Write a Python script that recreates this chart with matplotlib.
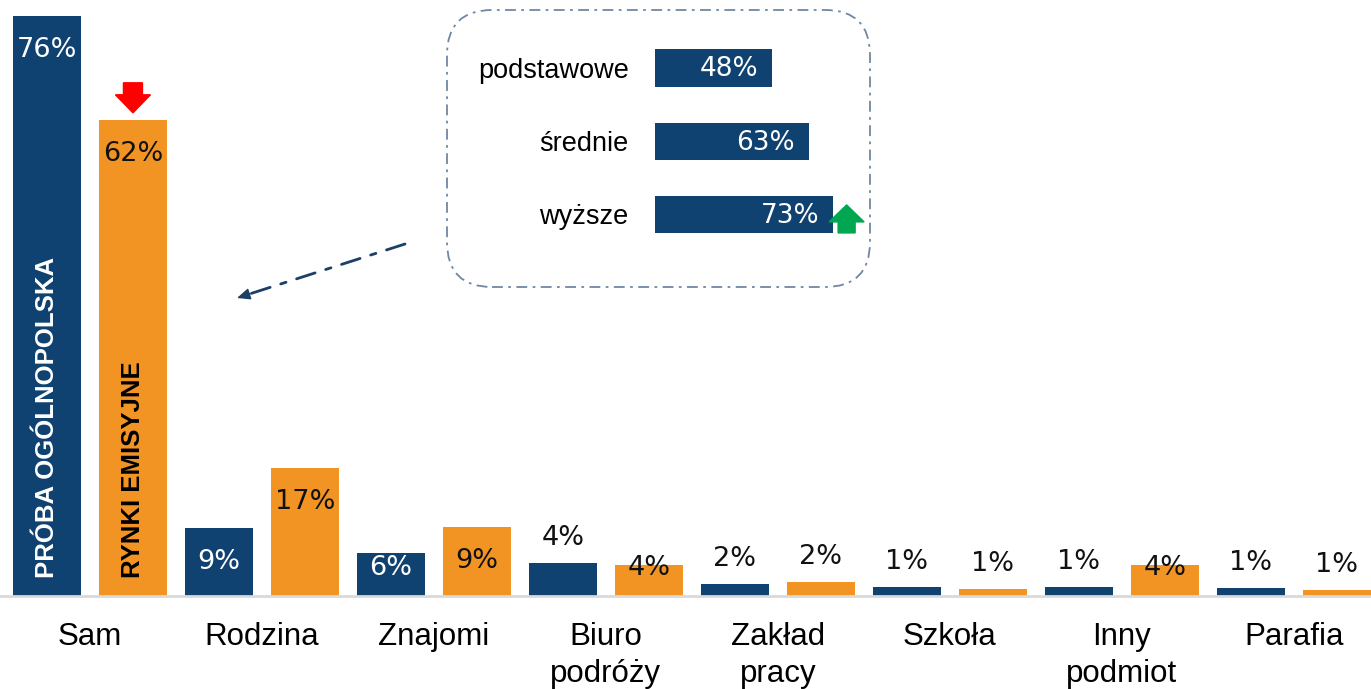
import numpy as np
import matplotlib
matplotlib.use("Agg")
import matplotlib.pyplot as plt
import matplotlib.transforms as mtransforms
from matplotlib.patches import Polygon, FancyBboxPatch

categories = ["Sam", "Rodzina", "Znajomi", "Biuro\npodróży", "Zakład\npracy",
              "Szkoła", "Inny\npodmiot", "Parafia"]
proba_ogolnopolska = [76, 8.9, 5.6, 4.3, 1.6, 1.2, 1.2, 1.0]
rynki_emisyjne = [62.4, 16.8, 9.1, 4.0, 1.8, 0.9, 4.0, 0.8]

wyksztalcenie = ["podstawowe", "średnie", "wyższe"]
wyksztalcenie_vals = [48, 63, 73]

# where each value label goes ('in' = inside the bar top, 'out' = above it)
proba_label_pos = ["in", "in", "in", "out", "out", "out", "out", "out"]
rynki_label_pos = ["in", "in", "in", "in", "out", "out", "in", "out"]

NAVY = "#0F4270"
ORANGE = "#F29423"
LABEL_FONT = "Liberation Sans"
PCT_FONT = "DejaVu Sans"

W, H = 1371, 689
fig = plt.figure(figsize=(W / 100, H / 100), dpi=100)
ax = fig.add_axes([0, 1 - 596 / H, 1, 596 / H])

x = np.arange(len(categories))
ax.bar(x - 0.25, proba_ogolnopolska, width=0.395, color=NAVY)
ax.bar(x + 0.25, rynki_emisyjne, width=0.395, color=ORANGE)
ax.set_xlim(-0.523, 7.448)
ax.set_ylim(0, 78.1)

for s in ["top", "left", "right"]:
    ax.spines[s].set_visible(False)
ax.spines["bottom"].set_color("#D9D9D9")
ax.spines["bottom"].set_linewidth(2)
ax.set_yticks([])
ax.set_xticks(x)
ax.set_xticklabels(categories, fontsize=22.5, family=LABEL_FONT, linespacing=1.3)
ax.tick_params(axis="x", length=0, pad=19)


def value_label(xpos, v, pos, inside_color):
    if pos == "in":
        y = max(v - 4.5, 3.7)
        color = inside_color
    else:
        y = v + 3.3
        color = "#111111"
    ax.text(xpos, y, f"{round(v)}%", ha="center", va="center",
            fontsize=19.5, family=PCT_FONT, color=color)


for i in range(len(categories)):
    value_label(x[i] - 0.25, proba_ogolnopolska[i], proba_label_pos[i], "white")
    value_label(x[i] + 0.25, rynki_emisyjne[i], rynki_label_pos[i], "#111111")

ax.text(x[0] - 0.25, 2.4, "PRÓBA OGÓLNOPOLSKA", rotation=90, ha="center", va="bottom",
        fontsize=18.5, fontweight="bold", family=LABEL_FONT, color="white")
ax.text(x[0] + 0.25, 2.4, "RYNKI EMISYJNE", rotation=90, ha="center", va="bottom",
        fontsize=18.5, fontweight="bold", family=LABEL_FONT, color="black")

# red arrow above the orange "Sam" bar
red_pts = [(-0.095, 0.37), (0.095, 0.37), (0.095, 0.25), (0.175, 0.25),
           (0, 0.07), (-0.175, 0.25), (-0.095, 0.25)]
red_tr = fig.dpi_scale_trans + mtransforms.ScaledTranslation(x[0] + 0.25, rynki_emisyjne[0], ax.transData)
fig.add_artist(Polygon(red_pts, closed=True, color="#FF0000", transform=red_tr))

# inset: education breakdown
box = FancyBboxPatch((4.47, 4.02), 4.23, 2.77, boxstyle="round,pad=0,rounding_size=0.45",
                     transform=fig.dpi_scale_trans, fill=False, edgecolor="#6F87A3",
                     linewidth=1.3, linestyle=(0, (6, 3, 1.5, 3)))
fig.add_artist(box)

ins = fig.add_axes([655 / W, 1 - 251 / H, 244 / W, 219.5 / H])
ins.set_facecolor("none")
rows = np.arange(len(wyksztalcenie))
ins.barh(rows, wyksztalcenie_vals, height=0.51, color=NAVY)
ins.set_xlim(0, 100)
ins.set_ylim(2.5, -0.5)
for s in ins.spines.values():
    s.set_visible(False)
ins.set_xticks([])
ins.set_yticks(rows)
ins.set_yticklabels(wyksztalcenie, fontsize=19.5, family=LABEL_FONT)
ins.tick_params(axis="y", length=0, pad=19)
for r, v in zip(rows, wyksztalcenie_vals):
    ins.annotate(f"{v}%", xy=(v, r), xytext=(-10, -1), textcoords="offset points",
                 ha="right", va="center", fontsize=19, family=PCT_FONT, color="white")

green_pts = [(0.135, 0.095), (0.31, -0.075), (0.22, -0.075), (0.22, -0.185),
             (0.05, -0.185), (0.05, -0.075), (-0.04, -0.075)]
green_tr = fig.dpi_scale_trans + mtransforms.ScaledTranslation(wyksztalcenie_vals[2], rows[2], ins.transData)
fig.add_artist(Polygon(green_pts, closed=True, color="#00A650", transform=green_tr))

# dash-dot pointer from the inset to the "Sam" bars
start = np.array([405, H - 244])
tip = np.array([237, H - 298])
d = (tip - start) / np.linalg.norm(tip - start)
ax.annotate("", xy=tuple(tip - d * 10), xycoords="figure pixels", xytext=tuple(start),
            textcoords="figure pixels",
            arrowprops=dict(arrowstyle="-", color="#1B3F66", lw=2,
                            linestyle=(0, (7, 4, 2, 4)), shrinkA=0, shrinkB=0))
ax.annotate("", xy=tuple(tip), xycoords="figure pixels", xytext=tuple(tip - d * 16),
            textcoords="figure pixels",
            arrowprops=dict(arrowstyle="-|>,head_width=0.35,head_length=0.8",
                            color="#1B3F66", lw=1, shrinkA=0, shrinkB=0))

fig.savefig("out.png", dpi=100)
